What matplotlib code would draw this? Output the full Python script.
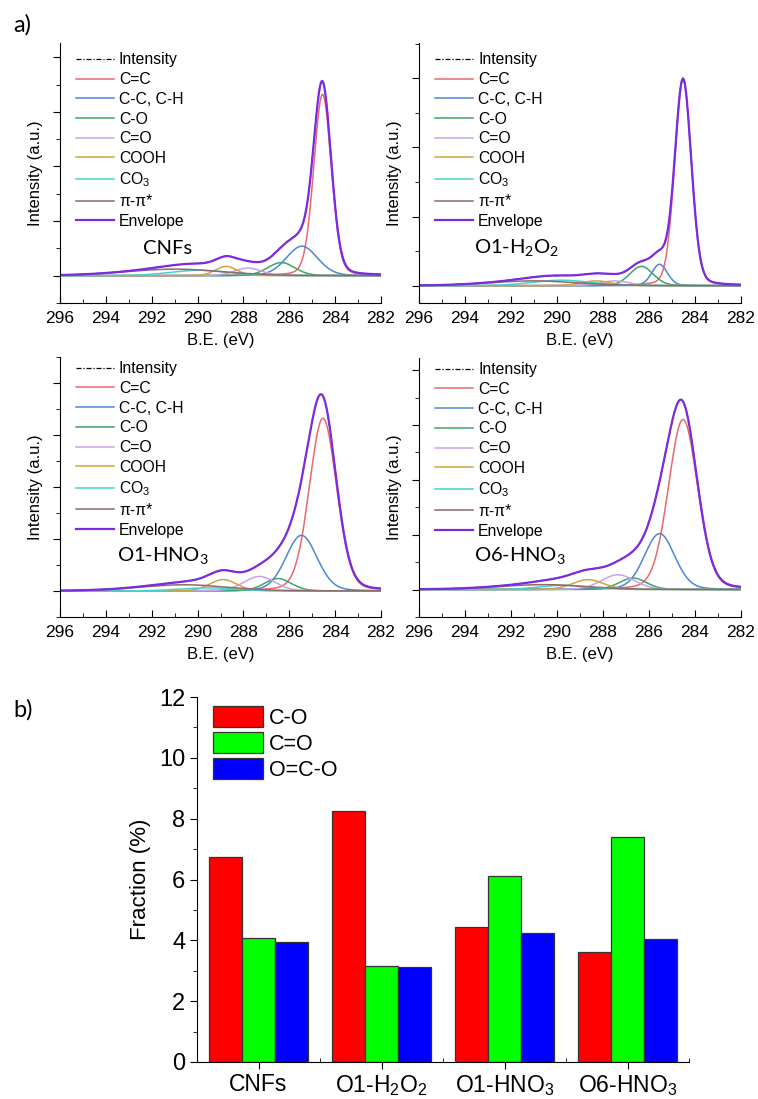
import numpy as np
import matplotlib
matplotlib.use('Agg')
import matplotlib.pyplot as plt
from matplotlib.ticker import MultipleLocator, FixedLocator

plt.rcParams['font.family'] = ['Liberation Sans', 'DejaVu Sans']
plt.rcParams['mathtext.default'] = 'regular'

# XPS C1s fits: peak centre (eV), height (a.u.), FWHM (eV) of each component
comp_names = ['C=C', 'C-C, C-H', 'C-O', 'C=O', 'COOH', 'CO$_3$', 'π-π*']
comp_colors = ['#e8696b', '#4a87d6', '#3fa36b', '#c7a3ea', '#d2a43c', '#46d0d0', '#8c6a6a']

samples = ['CNFs', 'O1-H$_2$O$_2$', 'O1-HNO$_3$', 'O6-HNO$_3$']

cnf_center = [284.55, 285.45, 286.35, 287.80, 288.75, 289.90, 291.00]
cnf_height = [3.32, 0.54, 0.24, 0.14, 0.17, 0.10, 0.12]
cnf_fwhm = [0.90, 1.60, 1.40, 1.40, 1.10, 3.00, 5.00]

h2o2_center = [284.52, 285.54, 286.33, 287.50, 288.30, 289.80, 291.00]
h2o2_height = [2.98, 0.31, 0.28, 0.07, 0.07, 0.08, 0.07]
h2o2_fwhm = [0.85, 0.80, 1.20, 1.50, 1.50, 3.00, 4.50]

hno3_1_center = [284.53, 285.47, 286.50, 287.30, 288.88, 289.50, 290.60]
hno3_1_height = [3.32, 1.07, 0.24, 0.28, 0.22, 0.06, 0.12]
hno3_1_fwhm = [1.40, 1.60, 1.40, 1.60, 1.40, 3.00, 4.50]

hno3_6_center = [284.52, 285.54, 286.70, 287.35, 288.65, 289.70, 290.60]
hno3_6_height = [3.10, 1.02, 0.21, 0.27, 0.18, 0.08, 0.09]
hno3_6_fwhm = [1.50, 1.55, 1.40, 1.70, 1.60, 2.50, 4.50]

fits = [(cnf_center, cnf_height, cnf_fwhm),
        (h2o2_center, h2o2_height, h2o2_fwhm),
        (hno3_1_center, hno3_1_height, hno3_1_fwhm),
        (hno3_6_center, hno3_6_height, hno3_6_fwhm)]

# b) fractions (%)
groups = ['CNFs', 'O1-H$_2$O$_2$', 'O1-HNO$_3$', 'O6-HNO$_3$']
frac_CO = [6.74, 8.26, 4.45, 3.62]
frac_C_dbl_O = [4.09, 3.15, 6.11, 7.39]
frac_OCO = [3.95, 3.12, 4.24, 4.05]


def pseudo_voigt(x, c, h, w, eta=0.15):
    g = np.exp(-4 * np.log(2) * (x - c) ** 2 / w ** 2)
    l = 1.0 / (1 + 4 * (x - c) ** 2 / w ** 2)
    return h * ((1 - eta) * g + eta * l)


W, H = 758, 1099
fig = plt.figure(figsize=(W / 100, H / 100), dpi=100)

# panel boxes in pixels: left, top, right, bottom
boxes = [(60, 43, 381, 303), (419, 43, 741, 303),
         (60, 357, 381, 617), (419, 358, 741, 617)]
ylims = [(-0.5, 4.26), (-0.25, 3.51), (-0.5, 4.5), (-0.5, 4.22)]
legend_top = [1.0, 1.0, 1.02, 1.02]
label_pos = [(168, 248), (517, 248), (163, 555), (520, 555)]

x = np.linspace(282, 296, 1200)

for i, (box, fit) in enumerate(zip(boxes, fits)):
    l, t, r, b = box
    ax = fig.add_axes([l / W, 1 - b / H, (r - l) / W, (b - t) / H])
    centers, heights, widths = fit
    comps = [pseudo_voigt(x, c, h, w) for c, h, w in zip(centers, heights, widths)]
    envelope = np.sum(comps, axis=0)
    ax.plot(x, envelope, color='black', lw=0.9, ls=(0, (4, 1.5, 1, 1.5)), label='Intensity')
    for y, name, col in zip(comps, comp_names, comp_colors):
        ax.plot(x, y, color=col, lw=1.1, label=name)
    ax.plot(x, envelope, color='#7b2be0', lw=1.6, label='Envelope')
    ax.set_xlim(296, 282)
    ax.set_ylim(*ylims[i])
    ax.spines['top'].set_visible(False)
    ax.spines['right'].set_visible(False)
    ax.xaxis.set_major_locator(MultipleLocator(2))
    ax.xaxis.set_minor_locator(MultipleLocator(1))
    ax.yaxis.set_major_locator(MultipleLocator(1))
    ax.yaxis.set_minor_locator(MultipleLocator(0.5))
    ax.tick_params(axis='x', which='both', direction='in', labelsize=12.5, pad=6)
    ax.tick_params(axis='x', which='major', length=5)
    ax.tick_params(axis='x', which='minor', length=3)
    ax.tick_params(axis='y', which='major', direction='out', length=5, labelleft=False)
    ax.tick_params(axis='y', which='minor', direction='out', length=3)
    ax.set_xlabel('B.E. (eV)', fontsize=12, labelpad=5)
    ax.set_ylabel('Intensity (a.u.)', fontsize=12, labelpad=6)
    ax.legend(loc='upper left', frameon=False, fontsize=11.3, handlelength=2.4,
              handletextpad=0.35, labelspacing=0.3, borderaxespad=0.2,
              bbox_to_anchor=(0.02, legend_top[i]))
    lx, ly = label_pos[i]
    fig.text(lx / W, 1 - ly / H, samples[i], fontsize=14.5, family='Lato',
             ha='center', va='center')

fig.text(13 / W, 1 - 25 / H, 'a)', fontsize=17, family='Lato', va='center')
fig.text(13 / W, 1 - 710 / H, 'b)', fontsize=17, family='Lato', va='center')

# bar chart
axb = fig.add_axes([197 / W, 1 - 1062 / H, 492 / W, 365 / H])
pos = np.arange(1, len(groups) + 1)
bw = 0.267
axb.bar(pos - bw, frac_CO, bw, color='#ff0000', edgecolor='#333333', lw=0.9, label='C-O')
axb.bar(pos, frac_C_dbl_O, bw, color='#00ff00', edgecolor='#333333', lw=0.9, label='C=O')
axb.bar(pos + bw, frac_OCO, bw, color='#0000ff', edgecolor='#333333', lw=0.9, label='O=C-O')
axb.set_xlim(0.5, 4.5)
axb.set_ylim(0, 12)
axb.spines['top'].set_visible(False)
axb.spines['right'].set_visible(False)
axb.set_xticks(pos)
axb.set_xticklabels(groups)
axb.xaxis.set_minor_locator(FixedLocator([0.5, 1.5, 2.5, 3.5, 4.5]))
axb.yaxis.set_major_locator(MultipleLocator(2))
axb.yaxis.set_minor_locator(MultipleLocator(1))
axb.tick_params(axis='x', which='major', direction='out', length=5, labelsize=16.5, pad=3)
axb.tick_params(axis='x', which='minor', direction='in', length=3)
axb.tick_params(axis='y', which='major', direction='out', length=5, labelsize=17)
axb.tick_params(axis='y', which='minor', direction='out', length=3)
axb.set_ylabel('Fraction (%)', fontsize=16, labelpad=6)
axb.legend(loc='upper left', frameon=False, fontsize=15.5, handlelength=2.3,
           handleheight=1.15, handletextpad=0.3, labelspacing=0.15,
           borderaxespad=0.0, bbox_to_anchor=(0.015, 1.0))

fig.savefig('out.png', dpi=100)
